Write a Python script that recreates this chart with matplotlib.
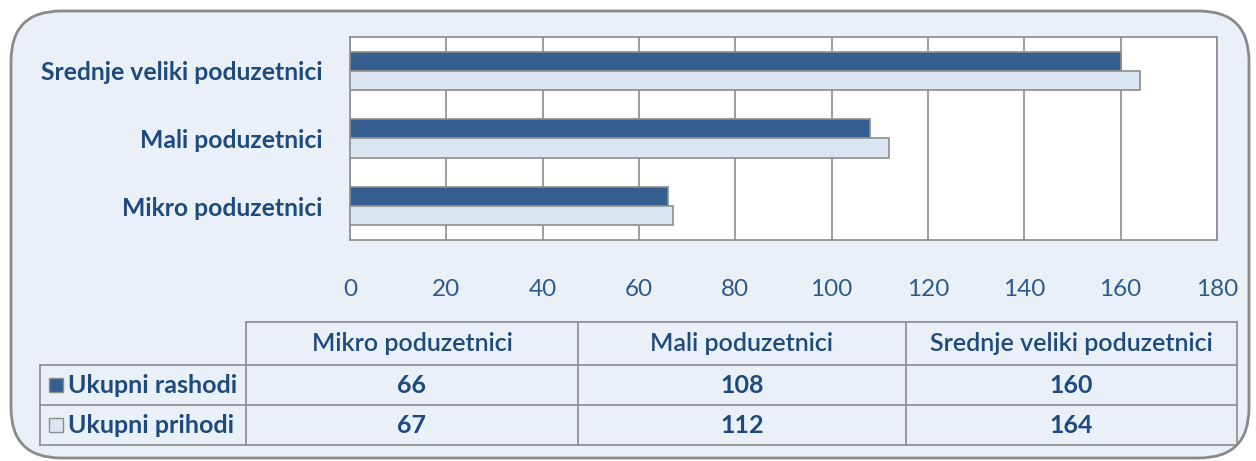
import matplotlib
matplotlib.use("Agg")
import matplotlib.pyplot as plt
from matplotlib.patches import FancyBboxPatch
import numpy as np

categories = ["Mikro poduzetnici", "Mali poduzetnici", "Srednje veliki poduzetnici"]
series_names = ["Ukupni rashodi", "Ukupni prihodi"]
rashodi = [66, 108, 160]
prihodi = [67, 112, 164]
x_ticks = [0, 20, 40, 60, 80, 100, 120, 140, 160, 180]

W, H = 1256, 461
fig = plt.figure(figsize=(W / 100, H / 100), dpi=100)
fig.patch.set_facecolor("white")

FONT = ["Lato", "DejaVu Sans"]
TXT = "#1F4A7E"
DARK = "#365F91"
LIGHT = "#DCE6F2"
EDGE = "#8C8C8C"
GRID = "#8C8C8C"

def fx(px):
    return px / W

def fy(py):
    return 1 - py / H

# background rounded frame
frame = FancyBboxPatch((fx(11), fy(458)), fx(1249) - fx(11), fy(11) - fy(458),
                       boxstyle="round,pad=0,rounding_size=0.04",
                       transform=fig.transFigure, facecolor="#EAF0F7",
                       edgecolor="#8A8A8A", linewidth=2.0, zorder=-5,
                       mutation_aspect=W / H)
fig.patches.append(frame)

# bar chart
ax = fig.add_axes([fx(350), fy(240), fx(1217) - fx(350), fy(37) - fy(240)])
ax.set_zorder(2)
ax.set_facecolor("white")
y = np.arange(len(categories))
h = 0.285
ax.barh(y + h / 2, rashodi, height=h, color=DARK, edgecolor=EDGE, linewidth=1.2, zorder=3)
ax.barh(y - h / 2, prihodi, height=h, color=LIGHT, edgecolor=EDGE, linewidth=1.2, zorder=3)
ax.set_xlim(0, 180)
ax.set_ylim(-0.5, len(categories) - 0.5)
ax.set_xticks(x_ticks)
ax.set_xticklabels([str(t) for t in x_ticks], fontsize=17.5, color="#2F5A8E", family=FONT)
ax.set_yticks(y)
ax.set_yticklabels(categories, fontsize=17.8, color=TXT, family=FONT, fontweight="bold")
ax.tick_params(axis="x", length=0, pad=28)
ax.tick_params(axis="y", length=0, pad=19.5)
ax.grid(axis="x", color=GRID, linewidth=1.2, zorder=1)
for s in ax.spines.values():
    s.set_color(GRID)
    s.set_linewidth(1.2)

# data table
col_x = [40, 246, 578, 906, 1237]
row_y = [322, 365, 405, 445]
lc = "#8C8C8C"
lw = 1.2
def hline(py, x0, x1):
    fig.add_artist(plt.Line2D([fx(x0), fx(x1)], [fy(py), fy(py)], transform=fig.transFigure,
                              color=lc, linewidth=lw))
def vline(px, y0, y1):
    fig.add_artist(plt.Line2D([fx(px), fx(px)], [fy(y0), fy(y1)], transform=fig.transFigure,
                              color=lc, linewidth=lw))

hline(row_y[0], col_x[1], col_x[-1])
for ry in row_y[1:]:
    hline(ry, col_x[0], col_x[-1])
vline(col_x[0], row_y[1], row_y[-1])
for cx in col_x[1:]:
    vline(cx, row_y[0], row_y[-1])

for i, cat in enumerate(categories):
    cx = (col_x[i + 1] + col_x[i + 2]) / 2
    fig.text(fx(cx), fy((row_y[0] + row_y[1]) / 2), cat, ha="center", va="center",
             fontsize=18, color=TXT, family=FONT, fontweight="semibold")

rows = [rashodi, prihodi]
colors = [DARK, LIGHT]
for r, (name, vals, col) in enumerate(zip(series_names, rows, colors)):
    cy = (row_y[r + 1] + row_y[r + 2]) / 2
    fig.patches.append(plt.Rectangle((fx(49), fy(cy + 7)), fx(14), fy(0) - fy(14),
                                     transform=fig.transFigure, facecolor=col,
                                     edgecolor="#8C8C8C", linewidth=1.0))
    fig.text(fx(68), fy(cy), name, ha="left", va="center", fontsize=18, color=TXT,
             family=FONT, fontweight="bold")
    for i, v in enumerate(vals):
        cx = (col_x[i + 1] + col_x[i + 2]) / 2
        fig.text(fx(cx), fy(cy), str(v), ha="center", va="center", fontsize=18,
                 color=TXT, family=FONT, fontweight="bold")

fig.savefig("out.png", dpi=100, facecolor="white")
